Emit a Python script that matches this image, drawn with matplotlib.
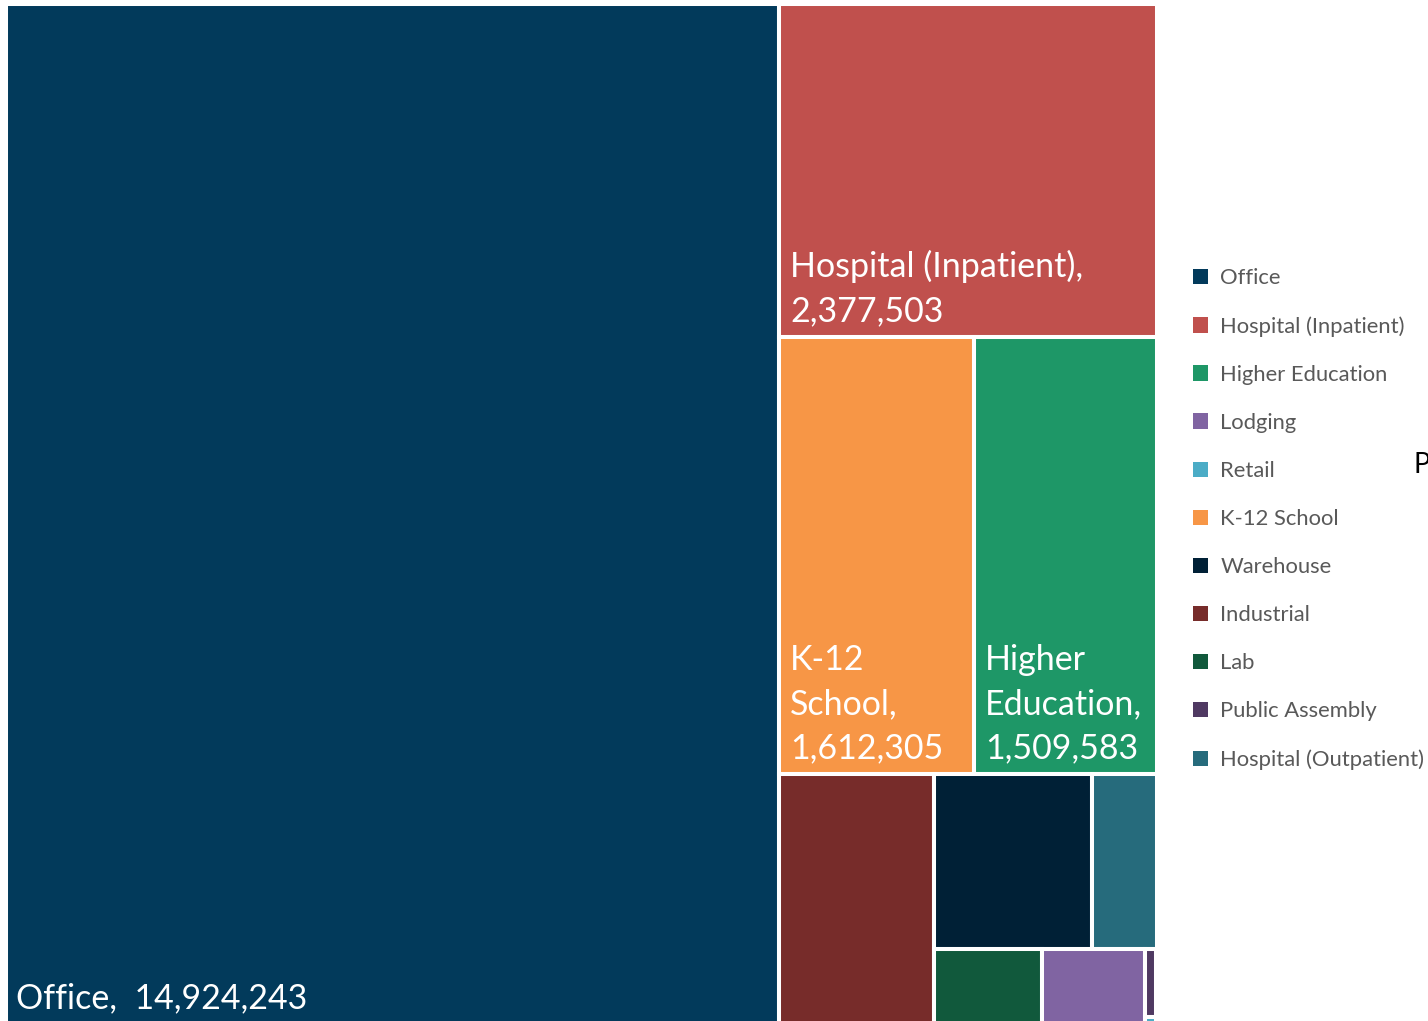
import matplotlib
matplotlib.use("Agg")
import matplotlib.pyplot as plt
from matplotlib.patches import Rectangle, Patch

# legend order (as in the source chart)
categories = ['Office', 'Hospital (Inpatient)', 'Higher Education', 'Lodging', 'Retail',
              'K-12 School', 'Warehouse', 'Industrial', 'Lab', 'Public Assembly',
              'Hospital (Outpatient)']
values = [14924243, 2377503, 1509583, 146000, 1500,
          1612305, 520000, 735000, 154000, 15500,
          213000]
colors = ['#023A5B', '#C0504D', '#1E9767', '#8064A2', '#4BACC6',
          '#F79646', '#002036', '#772C2A', '#11593C', '#4F3962',
          '#266B7C']

# tile labels (only the tiles big enough carry one)
label_text = {
    'Office': 'Office,  14,924,243',
    'Hospital (Inpatient)': 'Hospital (Inpatient),\n2,377,503',
    'K-12 School': 'K-12\nSchool,\n1,612,305',
    'Higher Education': 'Higher\nEducation,\n1,509,583',
}

val = dict(zip(categories, values))
col = dict(zip(categories, colors))

# nesting of the tiles: 'h' = side by side, 'v' = stacked
layout = ('h', ['Office',
                ('v', ['Hospital (Inpatient)',
                       ('h', ['K-12 School', 'Higher Education']),
                       ('h', ['Industrial',
                              ('v', [('h', ['Warehouse', 'Hospital (Outpatient)']),
                                     ('h', ['Lab', 'Lodging',
                                            ('v', ['Public Assembly', 'Retail'])])])])])])


def total(node):
    if isinstance(node, str):
        return val[node]
    return sum(total(c) for c in node[1])


def place(node, x, y, w, h, out):
    if isinstance(node, str):
        out[node] = (x, y, w, h)
        return
    direction, children = node
    s = total(node)
    for c in children:
        frac = total(c) / s
        if direction == 'h':
            place(c, x, y, w * frac, h, out)
            x += w * frac
        else:
            place(c, x, y, w, h * frac, out)
            y += h * frac


W, H = 1428, 1021
fig = plt.figure(figsize=(W / 100, H / 100), dpi=100)
ax = fig.add_axes([0, 0, 1, 1])
ax.set_xlim(0, W)
ax.set_ylim(H, 0)
ax.axis('off')

rects = {}
place(layout, 5.5, 4, 1151, 1020, rects)

for name, (x, y, w, h) in rects.items():
    ax.add_patch(Rectangle((x, y), w, h, facecolor=col[name],
                           edgecolor='white', linewidth=2.9))
    if name in label_text:
        ax.text(x + 11, y + h - 10, label_text[name], color='white',
                fontsize=24.5, family='Lato', ha='left', va='bottom',
                linespacing=1.46)

handles = [Patch(facecolor=c, edgecolor='none', label=n) for n, c in zip(categories, colors)]
leg = fig.legend(handles=handles, loc='upper left',
                 bbox_to_anchor=(1193 / W, 1 - 268 / H),
                 frameon=False, borderpad=0, borderaxespad=0,
                 handlelength=0.7, handleheight=0.7, handletextpad=0.55,
                 labelspacing=1.28, prop={'family': 'Lato', 'size': 15.8})
for t in leg.get_texts():
    t.set_color('#595959')

ax.text(1414, 465, 'P', color='black', fontsize=20, family='Lato',
        ha='left', va='center')

fig.savefig('out.png', dpi=100)
